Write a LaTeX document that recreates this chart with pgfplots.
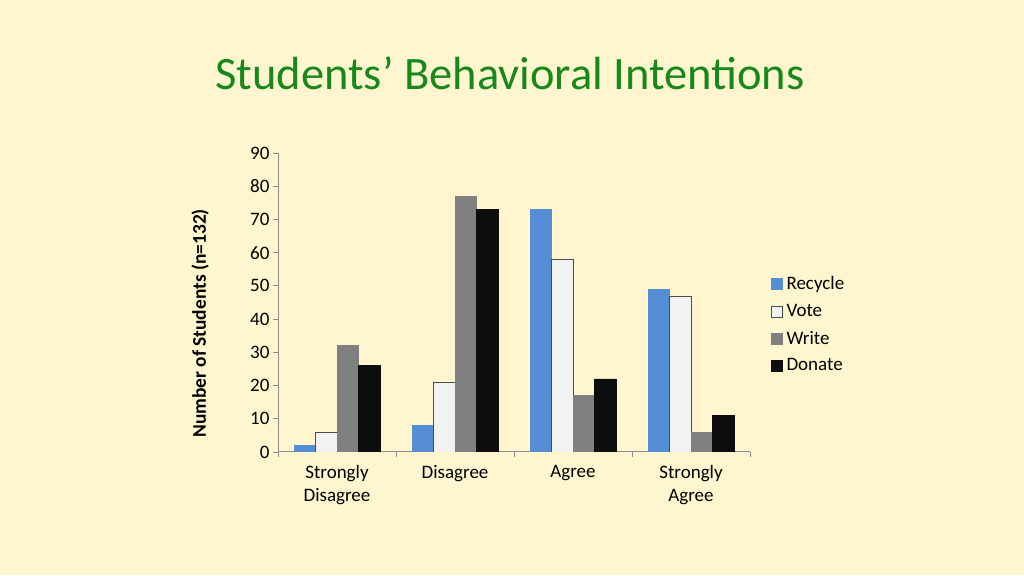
\documentclass[border=0pt]{standalone}
\usepackage{fontspec}
\setmainfont{Carlito}
\usepackage{pgfplots}
\pgfplotsset{compat=1.18}

\definecolor{bg}{HTML}{FFF6CF}
\definecolor{titlegreen}{HTML}{17891A}
\definecolor{axisgray}{HTML}{8C8C8C}
\definecolor{recycle}{HTML}{558ED5}
\definecolor{vote}{HTML}{F2F2F2}
\definecolor{write}{HTML}{808080}
\definecolor{donate}{HTML}{0D0D0D}

\begin{document}
\begin{tikzpicture}[x=1pt,y=1pt]
\fill[bg] (0,0) rectangle (1024,575);
\node[anchor=base, text=titlegreen, font=\fontsize{46.5}{54}\selectfont] at (510,485) {Students’ Behavioral Intentions};

\begin{axis}[
  at={(278pt,123pt)}, anchor=south west,
  scale only axis,
  width=472pt, height=299pt,
  ybar=0pt, bar width=21.5pt,
  xmin=-0.5, xmax=3.5,
  ymin=0, ymax=90,
  ytick={0,10,...,90},
  xtick={-0.5,0.5,1.5,2.5,3.5},
  xticklabels={Strongly\\Disagree, Disagree, Agree, Strongly\\Agree},
  x tick label as interval,
  xticklabel style={align=center, font=\fontsize{19}{23}\selectfont, text=black, yshift=-5pt},
  yticklabel style={font=\fontsize{19}{22}\selectfont, text=black},
  /pgf/number format/assume math mode=true,
  separate axis lines,
  axis x line*=bottom, axis y line*=left,
  axis line style={draw=axisgray, line width=1pt, -},
  tick align=outside,
  major tick length=5pt,
  tick style={draw=axisgray, line width=0.8pt},
  ylabel={\textbf{Number of Students (n=132)}},
  ylabel style={at={(axis description cs:-0.165,0.43)}, anchor=center, font=\fontsize{19.4}{23}\selectfont},
  legend style={at={(axis description cs:1.038,0.60)}, anchor=north west,
    draw=none, fill=none, font=\fontsize{19}{22}\selectfont,
    row sep=9pt, nodes={inner xsep=4pt}},
  legend cell align=left,
  legend image code/.code={\draw[#1, bar width=0pt] (0pt,-5.5pt) rectangle (11pt,5.5pt);},
]
\addplot[fill=recycle, draw=recycle] coordinates {(0,2) (1,8) (2,73) (3,49)};
\addplot[fill=vote, draw=black!70] coordinates {(0,6) (1,21) (2,58) (3,47)};
\addplot[fill=write, draw=write] coordinates {(0,32) (1,77) (2,17) (3,6)};
\addplot[fill=donate, draw=donate] coordinates {(0,26) (1,73) (2,22) (3,11)};
\legend{Recycle, Vote, Write, Donate}
\end{axis}
\end{tikzpicture}
\end{document}
